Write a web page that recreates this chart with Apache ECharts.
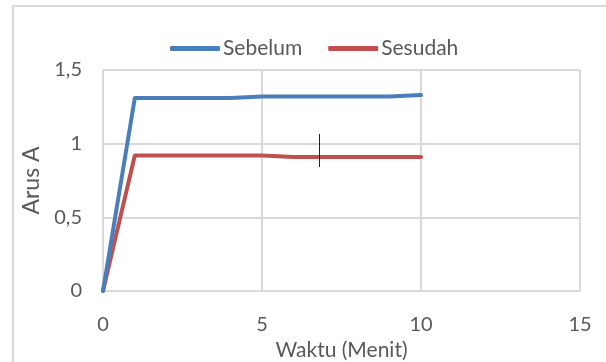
<!DOCTYPE html>
<html>
<head>
<meta charset="utf-8">
<script src="https://cdn.jsdelivr.net/npm/echarts@6/dist/echarts.min.js"></script>
<style>
  html, body { margin: 0; padding: 0; background: #ffffff; }
  #chart { width: 606px; height: 362px; }
</style>
</head>
<body>
<div id="chart"></div>
<script>
// Waktu (menit) sampling points
const waktu = [0, 1, 2, 3, 4, 5, 6, 7, 8, 9, 10];
// Arus (A) before and after
const sebelum = [0, 1.31, 1.31, 1.31, 1.31, 1.32, 1.32, 1.32, 1.32, 1.32, 1.33];
const sesudah = [0, 0.92, 0.92, 0.92, 0.92, 0.92, 0.91, 0.91, 0.91, 0.91, 0.91];
const seriesNames = ['Sebelum', 'Sesudah'];
const seriesColors = ['#4a7ebb', '#c0504d'];

const FONT = 'Lato';
const gridColor = '#d9d9d9';
const textColor = '#595959';

const toPairs = (ys) => waktu.map((x, i) => [x, ys[i]]);

const chart = echarts.init(document.getElementById('chart'), null, { renderer: 'canvas' });

chart.setOption({
  animation: false,
  backgroundColor: '#ffffff',
  textStyle: { fontFamily: FONT },
  graphic: [
    {
      type: 'rect',
      shape: { x: 13, y: 6, width: 620, height: 380 },
      style: { fill: 'none', stroke: gridColor, lineWidth: 2 },
      z: -1
    },
    {
      // text cursor
      type: 'line',
      shape: { x1: 319.5, y1: 134, x2: 319.5, y2: 167 },
      style: { stroke: '#222222', lineWidth: 1 },
      z: 100
    }
  ],
  legend: {
    top: 33,
    left: 165,
    itemWidth: 50,
    itemHeight: 5,
    itemGap: 26,
    icon: 'roundRect',
    textStyle: { fontFamily: FONT, fontSize: 21, color: textColor, padding: [0, 0, 0, -2] },
    data: seriesNames
  },
  grid: { left: 103, right: 26, top: 70, bottom: 71, outerBoundsMode: 'none' },
  xAxis: {
    type: 'value',
    min: 0, max: 15, interval: 5,
    name: 'Waktu (Menit)',
    nameLocation: 'middle',
    nameGap: 46,
    nameTextStyle: { fontFamily: FONT, fontSize: 21, color: textColor },
    axisLine: { show: true, lineStyle: { color: gridColor, width: 2 } },
    axisTick: { show: false },
    axisLabel: { fontFamily: FONT, fontSize: 20, color: textColor, margin: 24 },
    splitLine: { show: true, lineStyle: { color: gridColor, width: 2 } }
  },
  yAxis: {
    type: 'value',
    min: 0, max: 1.5, interval: 0.5,
    name: 'Arus A',
    nameLocation: 'middle',
    nameGap: 60,
    nameTextStyle: { fontFamily: FONT, fontSize: 23, color: textColor },
    axisLine: { show: true, lineStyle: { color: gridColor, width: 2 } },
    axisTick: { show: false },
    axisLabel: {
      fontFamily: FONT, fontSize: 20, color: textColor, margin: 21,
      formatter: (v) => String(v).replace('.', ',')
    },
    splitLine: { show: true, lineStyle: { color: gridColor, width: 2 } }
  },
  series: seriesNames.map((name, i) => ({
    name: name,
    type: 'line',
    data: toPairs(i === 0 ? sebelum : sesudah),
    symbol: 'none',
    lineStyle: { width: 4, color: seriesColors[i], cap: 'round', join: 'round' },
    itemStyle: { color: seriesColors[i] },
    z: 3 - i
  }))
});
</script>
</body>
</html>
